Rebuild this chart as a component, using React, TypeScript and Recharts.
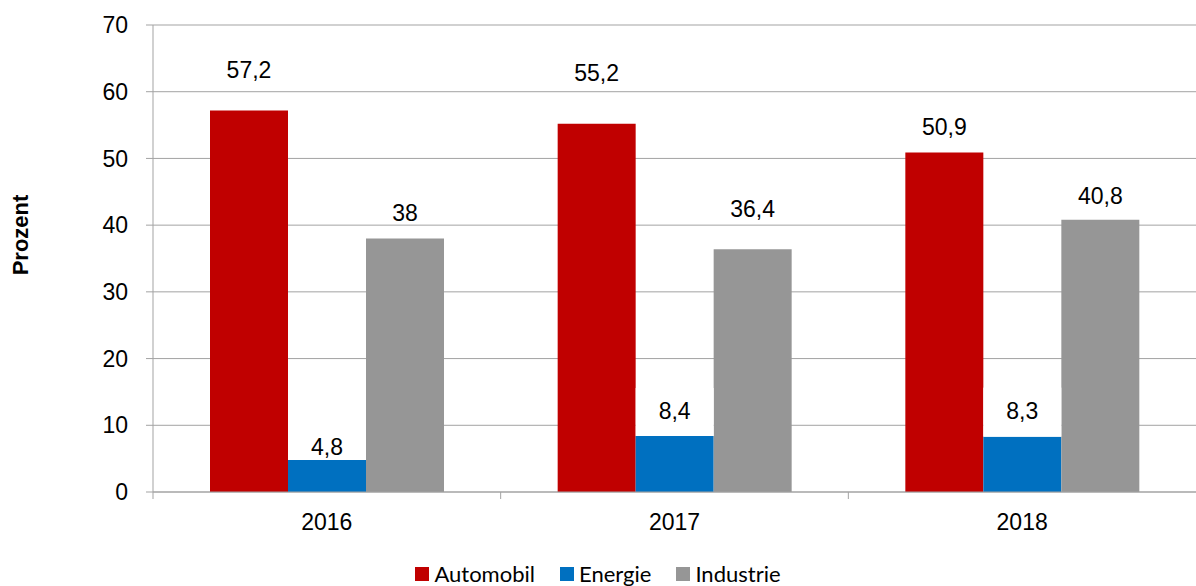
import React from "react";
import { BarChart, Bar, XAxis, YAxis, CartesianGrid, LabelList, Label } from "recharts";

const years = ["2016", "2017", "2018"];
const automobil = [57.2, 55.2, 50.9];
const energie = [4.8, 8.4, 8.3];
const industrie = [38, 36.4, 40.8];
const yTicks = [0, 10, 20, 30, 40, 50, 60, 70];

const seriesNames = ["Automobil", "Energie", "Industrie"];
const seriesColors = ["#C00000", "#0070C0", "#969696"];

const data = years.map((year, i) => ({
  year,
  automobil: automobil[i],
  energie: energie[i],
  industrie: industrie[i],
}));

const W = 1196;
const H = 586;
const TOP = 25;
const BOTTOM = 94;
const AXIS_W = 153;
const BAND = (W - AXIS_W) / years.length;
const GRID = "#a3a3a3";
const FONT = "'Liberation Sans', Arial, sans-serif";
const FS = 23;

// the value labels in the source were nudged by hand, so lift differs per bar (px)
const lift: Record<string, number[]> = {
  automobil: [40, 51, 25],
  energie: [13, 25, 26],
  industrie: [25, 40, 24],
};
const values: Record<string, number[]> = { automobil, energie, industrie };

// only the Energie labels carry a white box (it hides the gridline under them)
const makeLabel = (key: string, boxed: boolean) => (props: any) => {
  const { x, y, width, value, index } = props;
  const i = typeof index === "number" ? index : values[key].indexOf(value);
  const cx = Number(x) + Number(width) / 2;
  const cy = Number(y) - lift[key][i];
  const text = String(value).replace(".", ",");
  const boxTop = cy - 23;
  return (
    <g>
      {boxed && (
        <rect x={x} y={boxTop} width={width} height={Math.max(0, Number(y) - boxTop)} fill="#fff" />
      )}
      <text
        x={cx}
        y={cy}
        textAnchor="middle"
        dominantBaseline="central"
        fontFamily={FONT}
        fontSize={FS}
        fill="#000"
      >
        {text}
      </text>
    </g>
  );
};

const XTick = (props: any) => {
  const { x, payload } = props;
  const y0 = H - BOTTOM;
  const left = x - BAND / 2;
  return (
    <g>
      <line x1={left} x2={left} y1={y0} y2={y0 + 7} stroke={GRID} />
      <text
        x={x}
        y={y0 + 30}
        textAnchor="middle"
        dominantBaseline="central"
        fontFamily={FONT}
        fontSize={FS}
        fill="#000"
      >
        {payload.value}
      </text>
    </g>
  );
};

export default function App() {
  return (
    <div
      style={{
        position: "absolute",
        left: 0,
        top: 0,
        width: W,
        height: H,
        background: "#fff",
      }}
    >
      <BarChart
        width={W}
        height={H}
        data={data}
        margin={{ top: TOP, right: 0, bottom: 0, left: 0 }}
        barCategoryGap={57}
        barGap={0}
      >
        <CartesianGrid vertical={false} stroke={GRID} />
        <XAxis
          dataKey="year"
          height={BOTTOM}
          interval={0}
          axisLine={{ stroke: GRID }}
          tickLine={false}
          tick={<XTick />}
        />
        <YAxis
          width={AXIS_W}
          domain={[0, 70]}
          ticks={yTicks}
          interval={0}
          tickSize={7}
          tickMargin={18}
          axisLine={{ stroke: GRID }}
          tickLine={{ stroke: GRID }}
          tick={{ fill: "#000", fontSize: FS, fontFamily: FONT }}
        >
          <Label
            content={() => (
              <text
                transform="translate(20,235) rotate(-90)"
                textAnchor="middle"
                dominantBaseline="central"
                fontFamily={FONT}
                fontWeight="bold"
                fontSize={22}
                fill="#000"
              >
                Prozent
              </text>
            )}
          />
        </YAxis>
        <Bar dataKey="automobil" fill={seriesColors[0]} isAnimationActive={false}>
          <LabelList dataKey="automobil" content={makeLabel("automobil", false)} />
        </Bar>
        <Bar dataKey="energie" fill={seriesColors[1]} isAnimationActive={false}>
          <LabelList dataKey="energie" content={makeLabel("energie", true)} />
        </Bar>
        <Bar dataKey="industrie" fill={seriesColors[2]} isAnimationActive={false}>
          <LabelList dataKey="industrie" content={makeLabel("industrie", false)} />
        </Bar>
      </BarChart>
      <div
        style={{
          position: "absolute",
          left: 0,
          top: 563,
          width: W,
          display: "flex",
          justifyContent: "center",
          gap: 25,
          fontFamily: "Lato, 'Open Sans', sans-serif",
          fontSize: 22,
          lineHeight: "22px",
          color: "#000",
        }}
      >
        {seriesNames.map((name, i) => (
          <div key={name} style={{ display: "flex", alignItems: "center" }}>
            <span
              style={{
                width: 14,
                height: 14,
                background: seriesColors[i],
                marginRight: 5,
                display: "inline-block",
              }}
            />
            <span>{name}</span>
          </div>
        ))}
      </div>
    </div>
  );
}
